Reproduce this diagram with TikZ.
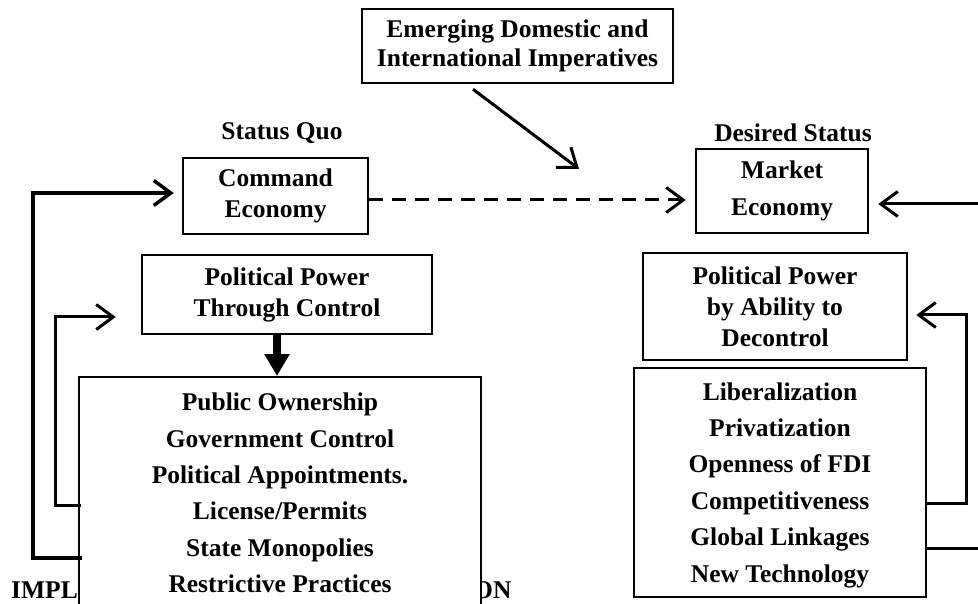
\documentclass[tikz,border=0pt]{standalone}
\usepackage{fontspec}
\setmainfont{Liberation Serif}
\usetikzlibrary{arrows.meta}
\begin{document}
\begin{tikzpicture}[x=1pt,y=-1pt,
  txt/.style={font=\bfseries\fontsize{25.5}{31}\selectfont, align=center},
  bigtxt/.style={font=\bfseries\fontsize{25.5}{36.4}\selectfont, align=center},
  boxn/.style={draw, line width=2.5pt, fill=white, inner sep=0pt},
  lbl/.style={font=\bfseries\fontsize{25.5}{30}\selectfont},
  barb/.style={-{Straight Barb[length=17pt,width=25pt]}},
  conn/.style={line width=3pt, barb},
  fbline/.style={line width=3pt, line join=miter},
  dashline/.style={line width=3pt, dash pattern=on 14pt off 9pt, barb}]
\path[use as bounding box] (0,0) rectangle (978,604);
\clip (0,0) rectangle (978,604);
\fill[white] (0,0) rectangle (978,604);

% top box
\node[boxn, txt, minimum width=311, minimum height=74] (emg) at (517.5,46) {Emerging Domestic and\\[-2pt]International Imperatives};

% labels
\node[lbl] (sq) at (282,133) {Status Quo};
\node[lbl] (ds) at (793,133) {Desired Status};

% left boxes
\node[boxn, txt, minimum width=185, minimum height=76] (cmd) at (275.5,196) {Command\\Economy};
\node[boxn, txt, minimum width=290, minimum height=79] (ppl) at (287,294.5) {Political Power\\Through Control};

% right boxes
\node[boxn, txt, minimum width=172, minimum height=84] (mkt) at (782,191) {Market\\[6pt]Economy};
\node[boxn, txt, minimum width=264, minimum height=107] (ppr) at (775,306.5) {Political Power\\by Ability to\\Decontrol};

% hidden heading fragments
\node[font=\bfseries\fontsize{25.5}{30}\selectfont, anchor=base west, inner sep=0pt] (impl) at (11,598) {IMPL};
\node[font=\bfseries\fontsize{25.5}{30}\selectfont, anchor=base west, inner sep=0pt] (on) at (473,598) {ON};

% big left box
\node[boxn, line width=2pt, minimum width=402, minimum height=263] (lbox) at (280,508.5) {};
\node[bigtxt] (ltxt) at (280,493) {Public Ownership\\Government Control\\Political Appointments.\\License/Permits\\State Monopolies\\Restrictive Practices};

% big right box
\node[boxn, minimum width=292, minimum height=229] (rbox) at (780,482.5) {};
\node[bigtxt] (rtxt) at (780,485) {Liberalization\\Privatization\\Openness of FDI\\Competitiveness\\Global Linkages\\New Technology};

% emerging arrow
\coordinate (ea) at ([xshift=-44.5pt,yshift=-5pt]emg.south);
\coordinate (eb) at (579,169);
\draw[conn] (ea) -- (eb);

% dashed arrow
\coordinate (d1) at ([yshift=-4pt]cmd.east);
\draw[dashline, shorten >=9pt] (d1) -- (d1 -| mkt.west);

% thick arrow
\coordinate (ta) at ([xshift=-10pt]ppl.south);
\draw[line width=8pt, -{Triangle[length=22pt,width=24pt]}] (ta) -- (ta |- lbox.north);

% left feedback loops
\coordinate (lo1) at (33,558);
\coordinate (lo2) at (33,193);
\draw[fbline, line width=3.5pt, barb, shorten <=-4pt, shorten >=8pt]
  (lo1 -| lbox.west) -- (lo1) -- (lo2) -- (lo2 -| cmd.west);
\coordinate (li1) at (55,505);
\coordinate (li2) at (55,317);
\draw[fbline, barb, shorten <=-3pt, shorten >=25pt]
  (li1 -| lbox.west) -- (li1) -- (li2) -- (li2 -| ppl.west);

% right feedback loops
\coordinate (ri1) at (966,503);
\coordinate (ri2) at (966,315);
\draw[fbline, barb, shorten >=8pt]
  (ri1 -| rbox.east) -- (ri1) -- (ri2) -- (ri2 -| ppr.east);
\coordinate (ro) at (990,548);
\draw[fbline] (ro -| rbox.east) -- (ro);
\coordinate (rin) at (990,204);
\draw[conn, shorten >=9pt] (rin) -- (rin -| mkt.east);
\end{tikzpicture}
\end{document}
